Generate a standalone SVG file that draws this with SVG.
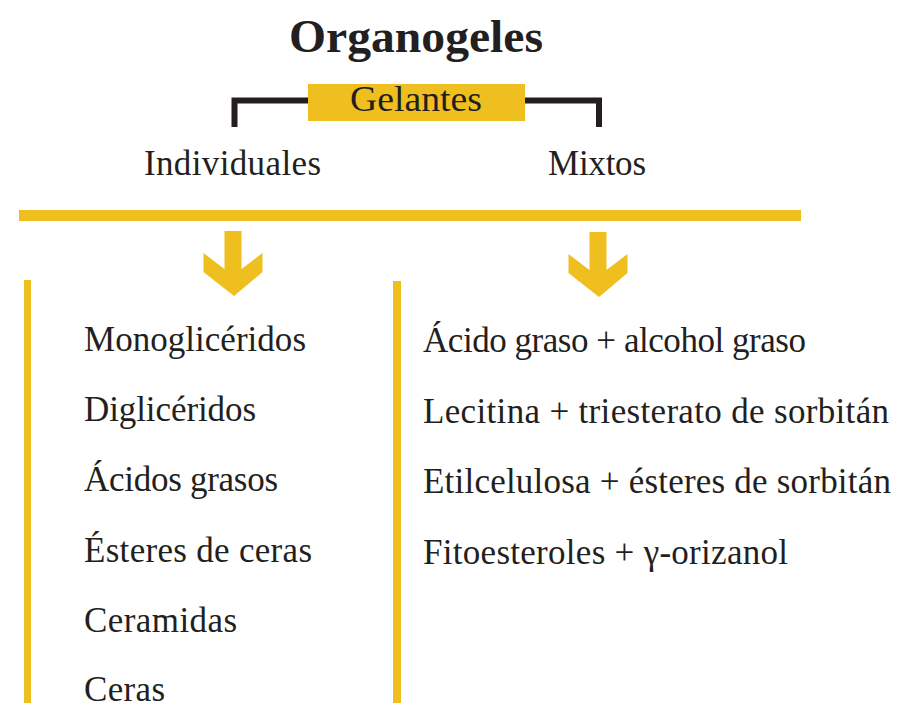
<svg xmlns="http://www.w3.org/2000/svg" width="899" height="719" viewBox="0 0 899 719">
<style>
.t{font-family:"Liberation Serif","Times New Roman",serif;fill:#231F20;font-size:35px}
.title{font-family:"Liberation Serif","Times New Roman",serif;fill:#231F20;font-size:46px;font-weight:bold}
.y{fill:#EFBF1F}
.br{fill:none;stroke:#231F20;stroke-width:6}
</style>
<defs>
<polygon id="arr" class="y" points="-9.5,0 7.5,0 7.5,38 28.5,22 28.5,41 0,65 -30.5,41 -30.5,22 -9.5,38"/>
</defs>
<rect width="899" height="719" fill="#fff"/>
<g id="title"><text class="title" x="416" y="52" text-anchor="middle" textLength="254" lengthAdjust="spacingAndGlyphs">Organogeles</text></g>
<g id="connectors">
<path class="br" d="M234.5,127 V100.5 H310 M523,100.5 H599 V127"/>
<rect class="y" x="19" y="210" width="782" height="11"/>
<use href="#arr" x="234" y="231"/>
<use href="#arr" x="599" y="232"/>
<rect class="y" x="24" y="280" width="7" height="423"/>
<rect class="y" x="393" y="281" width="8" height="422"/>
</g>
<g id="gelantes">
<rect class="y" x="308" y="84" width="217" height="37"/>
<text class="t" x="416" y="111" text-anchor="middle" font-size="34" textLength="132" lengthAdjust="spacingAndGlyphs">Gelantes</text>
</g>
<g id="individuales"><text class="t" x="144" y="175" textLength="177">Individuales</text></g>
<g id="mixtos"><text class="t" x="548" y="175" textLength="98">Mixtos</text></g>
<g id="list-individuales">
<text class="t" x="84" y="351" textLength="222">Monoglicéridos</text>
<text class="t" x="84" y="421" textLength="172">Diglicéridos</text>
<text class="t" x="84" y="491" textLength="194">Ácidos grasos</text>
<text class="t" x="84" y="562" textLength="228">Ésteres de ceras</text>
<text class="t" x="84" y="632" textLength="153">Ceramidas</text>
<text class="t" x="84" y="701" textLength="81">Ceras</text>
</g>
<g id="list-mixtos">
<text class="t" x="423" y="352" textLength="383">Ácido graso + alcohol graso</text>
<text class="t" x="423" y="423" textLength="466">Lecitina + triesterato de sorbitán</text>
<text class="t" x="423" y="493" textLength="468">Etilcelulosa + ésteres de sorbitán</text>
<text class="t" x="423" y="564" textLength="365">Fitoesteroles + γ-orizanol</text>
</g>
</svg>
